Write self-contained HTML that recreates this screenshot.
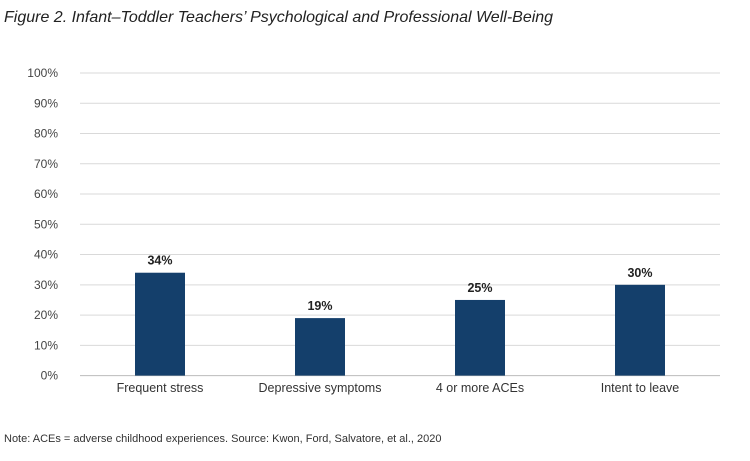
<!DOCTYPE html>
<html><head><meta charset="utf-8"><style>
body{margin:0;background:#fff;width:750px;height:456px;overflow:hidden;font-family:"Liberation Sans",sans-serif}
</style></head><body>
<svg width="750" height="456" font-family="Liberation Sans, sans-serif">
<text x="4" y="22" font-size="16" font-style="italic" fill="#222">Figure 2. Infant–Toddler Teachers’ Psychological and Professional Well-Being</text>
<g id="grid"></g><g id="bars"></g>
<text x="4" y="442" font-size="11" fill="#333">Note: ACEs = adverse childhood experiences. Source: Kwon, Ford, Salvatore, et al., 2020</text>
</svg>
<script>
const categories=["Frequent stress","Depressive symptoms","4 or more ACEs","Intent to leave"];
const values=[34,19,25,30];
const ticks=[0,10,20,30,40,50,60,70,80,90,100];
const x0=80,x1=720,yZero=375.6,yTop=73;
const y=v=>yZero-(v/100)*(yZero-yTop);
const band=(x1-x0)/categories.length;
const xc=i=>x0+band*(i+0.5);
const ns="http://www.w3.org/2000/svg";
const g=document.getElementById('grid'),b=document.getElementById('bars');
function mk(tag,at,parent){const e=document.createElementNS(ns,tag);for(const k in at)e.setAttribute(k,at[k]);parent.appendChild(e);return e;}
ticks.forEach(t=>{
 const l=mk('line',{x1:x0,x2:x1,y1:y(t),y2:y(t),stroke:t===0?'#bbb':'#d9d9d9','stroke-width':1},g);
 
 
 const tx=mk('text',{x:58,y:y(t)+4,'text-anchor':'end','font-size':12,fill:'#444'},g);
 tx.textContent=t+'%';
 
 
});
categories.forEach((c,i)=>{
 const w=50;
 const r=mk('rect',{x:xc(i)-w/2,y:y(values[i]),width:w,height:yZero-y(values[i]),fill:'#143f6b'},b);
 
 
 const v=mk('text',{x:xc(i),y:y(values[i])-8,'text-anchor':'middle','font-size':12.5,'font-weight':'bold',fill:'#222'},b);
 v.textContent=values[i]+'%';
 
 
 const cl=mk('text',{x:xc(i),y:392,'text-anchor':'middle','font-size':12.5,fill:'#333'},b);
 cl.textContent=c;
 
 
});
</script>
</body></html>
